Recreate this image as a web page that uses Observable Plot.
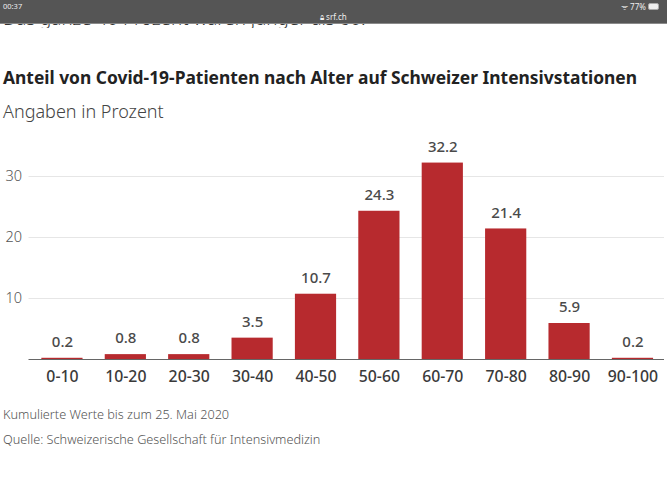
<!DOCTYPE html>
<html><head><meta charset="utf-8">
<script src="https://cdn.jsdelivr.net/npm/d3@7"></script>
<script src="https://cdn.jsdelivr.net/npm/@observablehq/plot@0.6"></script>
<style>
html,body{margin:0;padding:0;background:#fff;width:667px;height:500px;overflow:hidden;font-family:"Noto Sans",sans-serif}
.t{position:absolute;white-space:nowrap;line-height:1}
#bar{position:absolute;left:0;top:0;width:667px;height:23px;background:#555;border-bottom:1px solid #8a8a8a}
#clip{position:absolute;left:0;top:24px;width:667px;height:4px;overflow:hidden}
#chart{position:absolute;left:0;top:130px}
</style></head><body>
<div id="clip"><div class="t" style="left:3px;top:-15px;font-size:18.8px;font-weight:300;color:#333">Das ganze 40 Prozent waren jünger als 60.</div></div>
<div id="bar"></div>
<div class="t" style="left:3px;top:3px;font-size:7.5px;color:#eee">00:37</div>
<div class="t" style="left:320px;top:13px;font-size:8px;color:#eee">🔒︎ srf.ch</div>
<div class="t" style="left:621px;top:3px;font-size:8px;color:#eee">ᯤ 77%</div>
<div style="position:absolute;left:648px;top:3px;width:9px;height:5px;background:#eee;border:1px solid #aaa;border-radius:2px"></div>
<div class="t" style="left:3px;top:69px;font-size:17.4px;font-weight:700;color:#222">Anteil von Covid-19-Patienten nach Alter auf Schweizer Intensivstationen</div>
<div class="t" style="left:3px;top:102px;font-size:18px;font-weight:300;color:#444">Angaben in Prozent</div>
<div id="chart"></div>
<div class="t" style="left:3px;top:407.5px;font-size:12.7px;font-weight:300;color:#555">Kumulierte Werte bis zum 25. Mai 2020</div>
<div class="t" style="left:3px;top:432.5px;font-size:12.7px;font-weight:300;color:#555">Quelle: Schweizerische Gesellschaft für Intensivmedizin</div>
<script>
const categories=["0-10","10-20","20-30","30-40","40-50","50-60","60-70","70-80","80-90","90-100"];
const values=[0.2,0.8,0.8,3.5,10.7,24.3,32.2,21.4,5.9,0.2];
const gridTicks=[10,20,30];
const rows=categories.map((c,i)=>({c,v:values[i]}));
const plot=Plot.plot({
  width:667,height:260,marginTop:10,marginBottom:31,marginLeft:28.5,marginRight:3,
  style:{fontFamily:'"Noto Sans",sans-serif',background:"transparent"},
  x:{domain:categories,paddingInner:0.35,paddingOuter:0.1875,align:0.54,round:false,label:null},
  y:{domain:[0,35.9],label:null},
  marks:[
    Plot.ruleY(gridTicks,{stroke:"#e6e6e6",strokeWidth:1,strokeOpacity:1}),
    Plot.axisY({ticks:gridTicks,tickSize:0,tickPadding:7,fontSize:14.5,fontWeight:300,fill:"#555",label:null}),
    Plot.barY(rows,{x:"c",y:"v",fill:"#b72a2e"}),
    Plot.text(rows,{x:"c",y:"v",text:d=>d.v.toFixed(1),dy:-16,fontSize:15,fontWeight:500,fill:"#4a4a4a"}),
    Plot.ruleY([0],{stroke:"#666",strokeWidth:1.2,strokeOpacity:1}),
    Plot.axisX({tickSize:0,tickPadding:11,fontSize:15.8,fontWeight:500,fill:"#3a3a3a",label:null})
  ]
});
document.getElementById("chart").appendChild(plot);
</script></body></html>
